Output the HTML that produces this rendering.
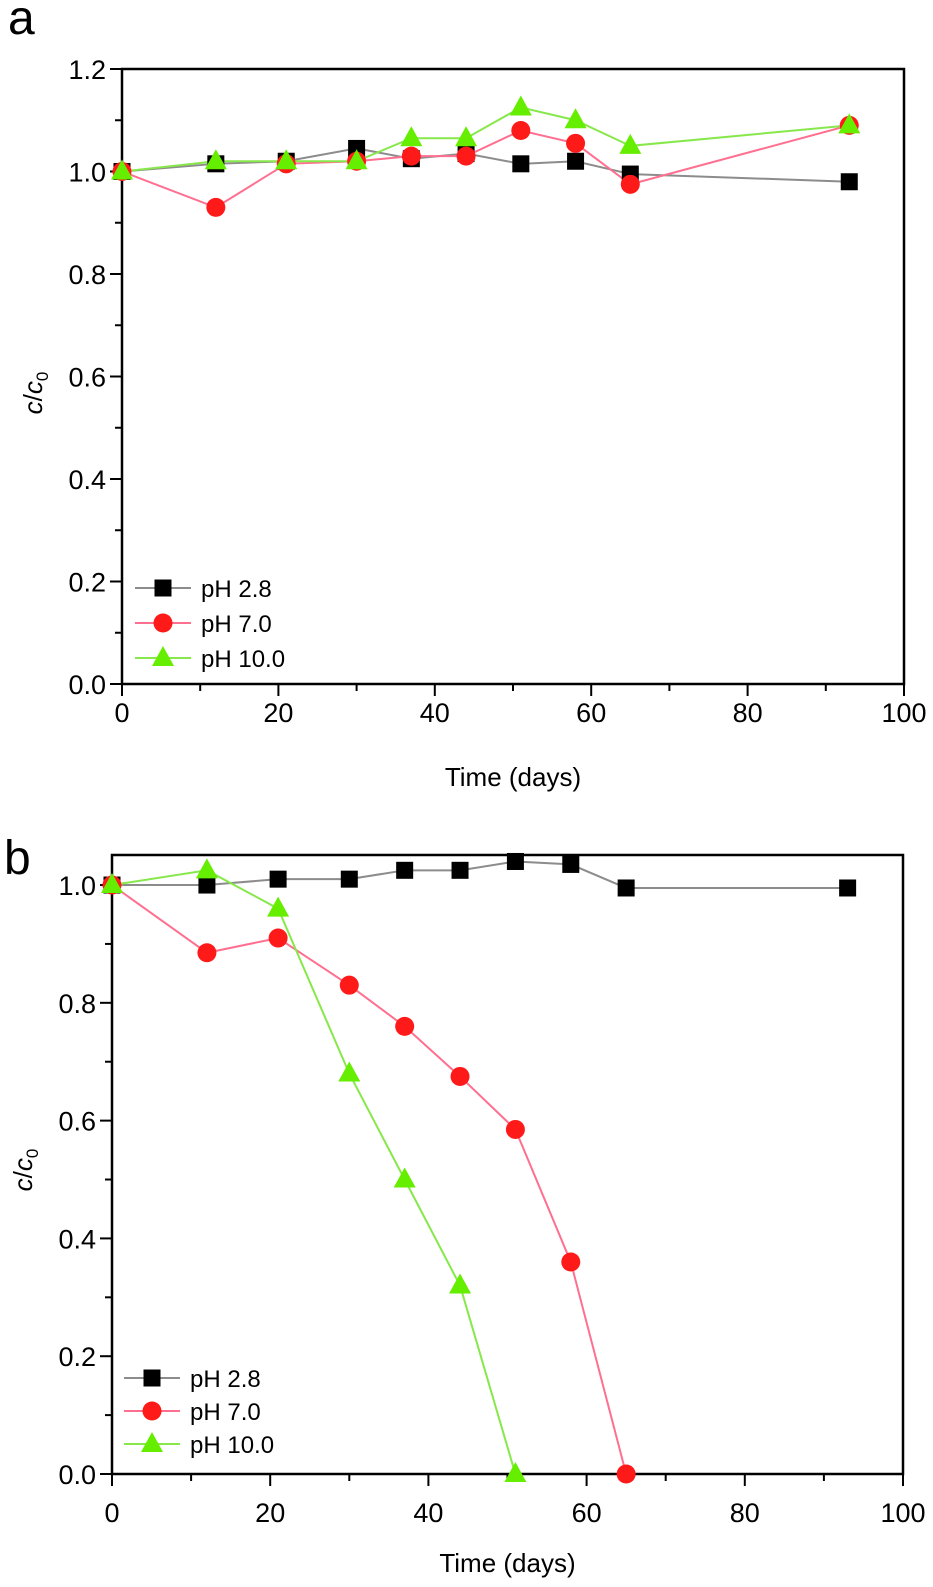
<!DOCTYPE html>
<html><head><meta charset="utf-8"><style>
html,body{margin:0;padding:0;background:#fff;}
svg{display:block;font-family:"Liberation Sans",Arial,sans-serif;}
</style></head><body>
<svg id="fig" width="933" height="1587" viewBox="0 0 933 1587">
<text x="8" y="34" font-size="48">a</text>
<text x="4" y="874" font-size="48">b</text>
</svg>
<script>
const days = [0,12,21,30,37,44,51,58,65,93];
const a_ph28 = [1.0,1.015,1.02,1.045,1.025,1.035,1.015,1.02,0.995,0.98];
const a_ph70 = [1.0,0.93,1.015,1.02,1.03,1.03,1.08,1.055,0.975,1.09];
const a_ph10 = [1.0,1.02,1.02,1.02,1.065,1.065,1.125,1.10,1.05,1.09];
const b_ph28 = [1.0,1.0,1.01,1.01,1.025,1.025,1.04,1.035,0.995,0.995];
const b_ph70 = [1.0,0.885,0.91,0.83,0.76,0.675,0.585,0.36,0.0];
const b_ph10 = [1.0,1.025,0.96,0.68,0.50,0.32,0.0];
const xTicks = [0,20,40,60,80,100];
const a_yTicks = [0,0.2,0.4,0.6,0.8,1.0,1.2];
const b_yTicks = [0,0.2,0.4,0.6,0.8,1.0];
const seriesNames = ["pH 2.8","pH 7.0","pH 10.0"];

const NS="http://www.w3.org/2000/svg";
const svg=document.getElementById('fig');
function mk(tag,attrs,parent){const e=document.createElementNS(NS,tag);for(const k in attrs)e.setAttribute(k,attrs[k]);(parent||svg).appendChild(e);return e;}
const colors={line:["#8c8c8c","#ff6f8f","#86e84a"],mark:["#000","#ff1a1a","#66ee00"]};

function marker(type,x,y,g){
  let e;
  if(type===0) e=mk('rect',{x:x-8.5,y:y-8.5,width:17,height:17,fill:colors.mark[0]},g);
  else if(type===1) e=mk('circle',{cx:x,cy:y,r:9.5,fill:colors.mark[1]},g);
  else e=mk('polygon',{points:`${x},${y-12} ${x+11},${y+8} ${x-11},${y+8}`,fill:colors.mark[2]},g);
  return e;
}

function panel(p){
  const g=mk('g',{});
  
  
  const X=v=>p.x0+(v-0)/100*(p.x1-p.x0);
  const Y=v=>p.yb-(v-0)/(p.ymax)*(p.yb-p.yt);
  const fr=mk('rect',{x:p.x0,y:p.yt,width:p.x1-p.x0,height:p.yb-p.yt,fill:'none',stroke:'#000','stroke-width':2.5},g);
  
  
  for(let v=0;v<=100;v+=10){
    const major=v%20===0;
    mk('line',{x1:X(v),x2:X(v),y1:p.yb,y2:p.yb+(major?12:7),stroke:'#000','stroke-width':2},g);
  }
  xTicks.forEach(v=>{
    const t=mk('text',{x:X(v),y:p.xlab,'font-size':27,'text-anchor':'middle'},g);
    t.textContent=v;
    
    
  });
  for(let i=0;i<=Math.round(p.ymaxTick*10);i++){
    const v=i/10;const major=i%2===0;
    mk('line',{x1:p.x0,x2:p.x0-(major?12:7),y1:Y(v),y2:Y(v),stroke:'#000','stroke-width':2},g);
  }
  p.yTicks.forEach(v=>{
    const t=mk('text',{x:p.x0-16,y:Y(v)+10,'font-size':27,'text-anchor':'end'},g);
    t.textContent=v.toFixed(1);
    
    
  });
  const xt=mk('text',{x:(p.x0+p.x1)/2,y:p.xtitle,'font-size':26,'text-anchor':'middle'},g);
  xt.textContent='Time (days)';
  
  
  const yt=mk('text',{transform:`translate(${p.ytx},${p.yty}) rotate(-90)`,'font-size':26,'text-anchor':'middle'},g);
  yt.innerHTML='<tspan font-style="italic">c</tspan>/<tspan font-style="italic">c</tspan><tspan font-size="17" dy="6">0</tspan>';
  
  
  p.series.forEach((vals,s)=>{
    const sg=mk('g',{},g);
    
    
    const pts=vals.map((v,i)=>X(days[i])+','+Y(v)).join(' ');
    mk('polyline',{points:pts,fill:'none',stroke:colors.line[s],'stroke-width':2},sg);
  });
  p.series.forEach((vals,s)=>{
    vals.forEach((v,i)=>{
      const m=marker(s,X(days[i]),Y(v),g);
      
      
    });
  });
  seriesNames.forEach((n,s)=>{
    const y=p.legY+s*p.legDy;
    const lg=mk('g',{},g);
    
    
    mk('line',{x1:p.legX,x2:p.legX+56,y1:y,y2:y,stroke:colors.line[s],'stroke-width':2},lg);
    marker(s,p.legX+28,y,lg);
    const t=mk('text',{x:p.legX+66,y:y+9,'font-size':24},lg);
    t.textContent=n;
  });
}

panel({name:'panel-a',x0:122,x1:904,yt:69,yb:684,ymax:1.2,ymaxTick:1.2,yTicks:a_yTicks,
  series:[a_ph28,a_ph70,a_ph10],xlab:722,xtitle:786,ytx:42,yty:393,legX:135,legY:588,legDy:35});
panel({name:'panel-b',x0:112,x1:903,yt:855,yb:1474,ymax:1.051,ymaxTick:1.0,yTicks:b_yTicks,
  series:[b_ph28,b_ph70,b_ph10],xlab:1522,xtitle:1572,ytx:32,yty:1170,legX:124,legY:1378,legDy:33});
</script>
</body></html>
